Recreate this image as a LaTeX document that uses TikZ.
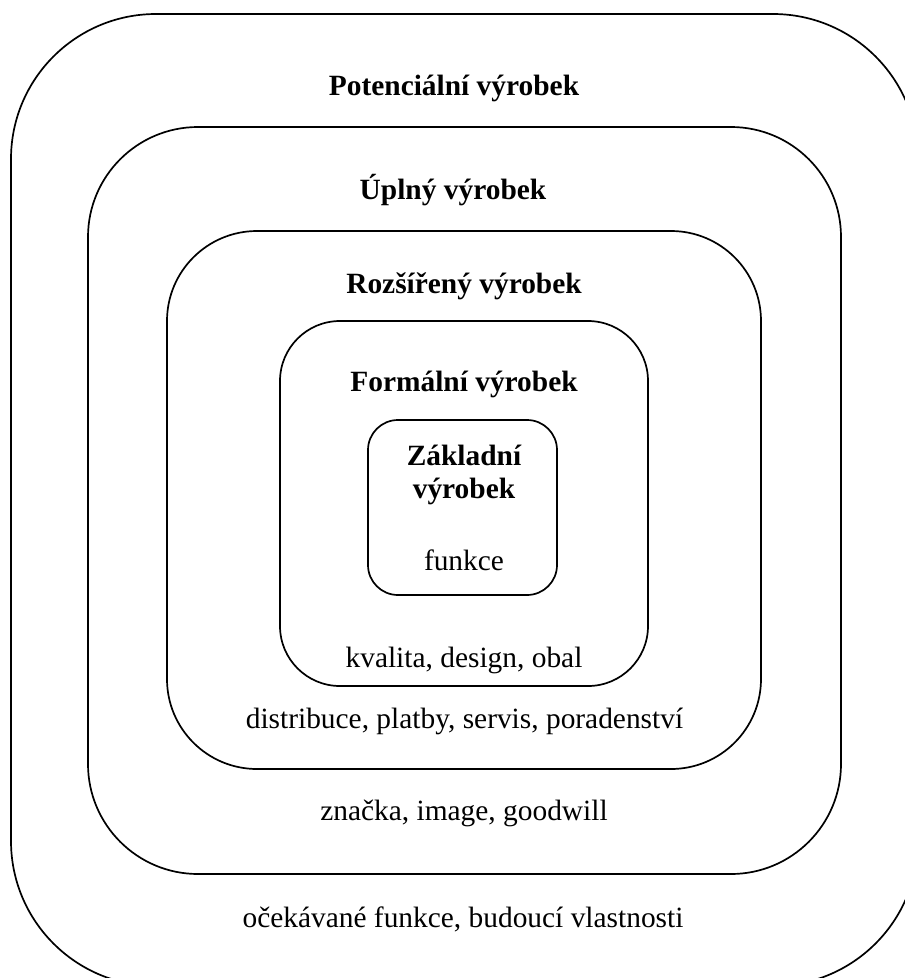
\documentclass[tikz,border=0pt]{standalone}
\usepackage{fontspec}
\setmainfont{Liberation Serif}
\begin{document}
\begin{tikzpicture}[x=1pt,y=-1pt,
  box/.style={draw, line width=1.7pt, inner sep=0pt, rounded corners=#1},
  hd/.style={font=\fontsize{29.4}{32}\selectfont\bfseries, inner sep=0pt, anchor=base},
  txt/.style={font=\fontsize{29.4}{32}\selectfont, inner sep=0pt, anchor=base}]
\useasboundingbox (0,0) rectangle (905,978);
\clip (0,0) rectangle (905,978);
% boxes
\node[box=145pt, minimum width=907pt, minimum height=972pt] (b1) at (464.5,500) {};
\node[box=110pt, minimum width=753pt, minimum height=747pt] (b2) at (464.5,500.5) {};
\node[box=90pt, minimum width=594pt, minimum height=538pt] (b3) at (464,500) {};
\node[box=60pt, minimum width=368pt, minimum height=365pt] (b4) at (464,503.5) {};
\node[box=30pt, minimum width=189pt, minimum height=175pt] (b5) at (462.5,507.5) {};
% headings
\node[hd] (t1) at (454,95) {Potenciální výrobek};
\node[hd] (t2) at (453,199) {Úplný výrobek};
\node[hd] (t3) at (464,293) {Rozšířený výrobek};
\node[hd] (t4) at (464,391) {Formální výrobek};
\node[hd] (t5a) at (464,465) {Základní};
\node[hd] (t5b) at (464,498) {výrobek};
% contents
\node[txt] (c5) at (464,570) {funkce};
\node[txt] (c4) at (464,667) {kvalita, design, obal};
\node[txt] (c3) at (464.5,728) {distribuce, platby, servis, poradenství};
\node[txt] (c2) at (464,820) {značka, image, goodwill};
\node[txt] (c1) at (463,927) {očekávané funkce, budoucí vlastnosti};
\end{tikzpicture}
\end{document}
